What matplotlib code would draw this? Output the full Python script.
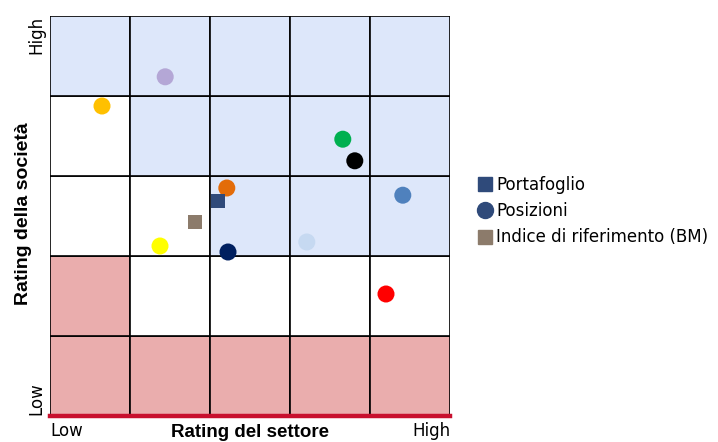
import numpy as np
import matplotlib.pyplot as plt
from matplotlib.lines import Line2D

plt.rcParams['font.family'] = ['DejaVu Sans']
TITLE_FONT = ['Liberation Sans Narrow', 'Liberation Sans', 'DejaVu Sans']

# -----------------------------
# Data
# -----------------------------
# cell zones, row 0 = bottom (Low) ... row 4 = top (High); 0 white, 1 blue, 2 pink
zones = [
    [2, 2, 2, 2, 2],
    [2, 0, 0, 0, 0],
    [0, 0, 1, 1, 1],
    [0, 1, 1, 1, 1],
    [1, 1, 1, 1, 1],
]
zone_colors = {0: "#ffffff", 1: "#dde7fa", 2: "#eaadad"}

pos_x = [1.44, 0.65, 3.66, 3.81, 2.21, 4.41, 1.375, 2.225, 3.21, 4.2]
pos_y = [4.24, 3.875, 3.46, 3.19, 2.85, 2.76, 2.125, 2.05, 2.175, 1.525]
pos_colors = ["#b4a7d6", "#ffc000", "#00b050", "#000000", "#e36c09",
              "#4f81bd", "#ffff00", "#002060", "#c6d9f1", "#ff0000"]

port_x, port_y = [2.1], [2.69]
bm_x, bm_y = [1.81], [2.425]

legend_labels = ["Portafoglio", "Posizioni", "Indice di riferimento (BM)"]

# -----------------------------
# Figure
# -----------------------------
fig = plt.figure(figsize=(7.18, 4.42), dpi=100)
ax = fig.add_axes([50 / 718, 26 / 442, 400 / 718, 400 / 442])

for r, row in enumerate(zones):
    for c, z in enumerate(row):
        ax.add_patch(plt.Rectangle((c, r), 1, 1, facecolor=zone_colors[z],
                                   edgecolor="black", linewidth=1.2, zorder=1))

ax.scatter(pos_x, pos_y, s=150, c=pos_colors, edgecolors="none", zorder=3)
ax.scatter(port_x, port_y, s=110, marker="s", c="#2f4a7a", edgecolors="none", zorder=3)
ax.scatter(bm_x, bm_y, s=110, marker="s", c="#8c7b6b", edgecolors="none", zorder=3)

ax.set_xlim(0, 5)
ax.set_ylim(0, 5)
ax.set_xticks([])
ax.set_yticks([])
for side in ["top", "left", "right"]:
    ax.spines[side].set_visible(False)
ax.spines["bottom"].set_color("#c8102e")
ax.spines["bottom"].set_linewidth(3.2)
ax.spines["bottom"].set_zorder(4)

# axis end labels
ax.text(0.0, -0.016, "Low", transform=ax.transAxes, ha="left", va="top", fontsize=12)
ax.text(1.0, -0.016, "High", transform=ax.transAxes, ha="right", va="top", fontsize=12)
ax.text(-0.033, 1.0, "High", transform=ax.transAxes, ha="center", va="top",
        rotation=90, fontsize=12)
ax.text(-0.033, 0.003, "Low", transform=ax.transAxes, ha="center", va="bottom",
        rotation=90, fontsize=12)

ax.text(0.5, -0.02, "Rating del settore", transform=ax.transAxes, ha="center",
        va="top", fontsize=13.5, fontweight="bold", family=TITLE_FONT)
ax.text(-0.065, 0.505, "Rating della società", transform=ax.transAxes, ha="center",
        va="center", rotation=90, fontsize=14, fontweight="bold", family=TITLE_FONT)

# -----------------------------
# Legend
# -----------------------------
handles = [
    Line2D([], [], marker="s", linestyle="none", color="#2f4a7a", markersize=9.5),
    Line2D([], [], marker="o", linestyle="none", color="#2f4a7a", markersize=11.5),
    Line2D([], [], marker="s", linestyle="none", color="#8c7b6b", markersize=9.5),
]
fig.legend(handles, legend_labels,
           loc="center left", bbox_to_anchor=(471 / 718, 1 - 211 / 442),
           frameon=False, fontsize=12, handlelength=0.7, handletextpad=0.3,
           labelspacing=0.5, borderpad=0)

fig.savefig("out.png", dpi=100)
